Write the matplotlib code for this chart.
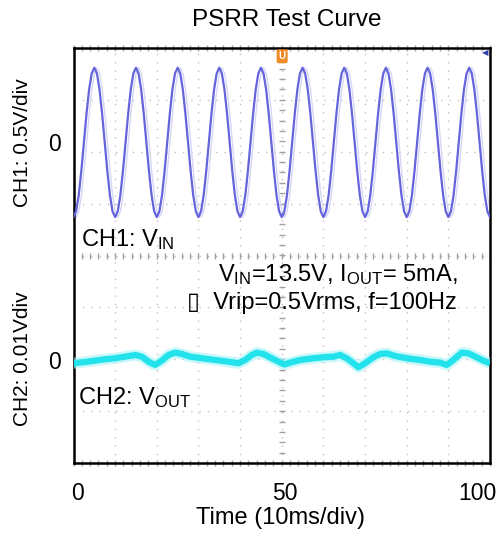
import numpy as np
import matplotlib
matplotlib.use("Agg")
import matplotlib.pyplot as plt

plt.rcParams['font.family'] = ['Liberation Sans', 'DejaVu Sans']
plt.rcParams['mathtext.fontset'] = 'custom'
plt.rcParams['mathtext.rm'] = 'Liberation Sans'
plt.rcParams['mathtext.it'] = 'Liberation Sans'

# CH1 (input ripple), volts, one cycle sampled every 0.625 ms, starts at a trough
ch1_step = 0.625
ch1_cycle = [-0.72, -0.665, -0.51, -0.276, 0.0, 0.276, 0.51, 0.665,
             0.72, 0.665, 0.51, 0.276, 0.0, -0.276, -0.51, -0.665]
ch1_cycles = 10
ch1_lag = 0.65          # faint persistence trace, ms behind

# CH2 (output), mV
ch2_t = [0, 2.8, 5.2, 7.6, 10.0, 12.4, 14.8, 16.4, 18.0, 19.6, 21.2, 22.8, 24.4, 26.0,
         28.0, 30.8, 34.0, 37.2, 39.6, 41.2, 42.8, 44.0, 45.6, 47.6, 49.2, 50.6,
         52.0, 54.4, 57.6, 60.0, 62.4, 64.0, 65.6, 67.2, 68.4, 70.0, 72.0, 73.6,
         75.2, 77.2, 80.0, 83.2, 85.6, 88.0, 89.6, 91.2, 93.2, 94.8, 96.8, 98.4, 100]
ch2_mv = [-0.67, -0.42, -0.17, 0.1, 0.29, 0.6, 0.92, 0.6, -0.37, -1.0, -0.17, 0.92, 1.37, 1.12,
          0.6, 0.29, -0.04, -0.37, -0.67, -0.04, 0.92, 1.37, 1.12, 0.29, -0.37, -0.9,
          -0.55, -0.04, 0.29, 0.48, 0.6, 0.92, 0.29, -0.67, -1.45, -0.67, 0.48, 1.12,
          1.25, 0.73, 0.29, -0.04, -0.37, -0.55, -1.0, -0.04, 1.37, 1.25, 0.48, -0.17, -0.67]

ch1_vdiv = 0.5
ch2_mvdiv = 10.0
ch1_zero = 2.18
ch2_zero = -2.01

ch1_v = np.array(ch1_cycle * ch1_cycles + [ch1_cycle[0]])
ch1_t = np.arange(len(ch1_v)) * ch1_step

fig = plt.figure(figsize=(4.98, 5.41), dpi=100)
ax = fig.add_axes([73.5/498, 1-463/541, (490-73.5)/498, (463-48)/541])
ax.set_xlim(0, 100)
ax.set_ylim(-4, 4)

# graticule
for gx in np.arange(10, 100, 10):
    ax.axvline(gx, color='#c0c0c0', lw=1.0, ls=(0, (1, 5)), zorder=0)
for gy in np.arange(-3, 4, 1):
    ax.axhline(gy, color='#c0c0c0', lw=1.0, ls=(0, (1, 5)), zorder=0)
mx = np.arange(0, 100.1, 2)
my = np.arange(-4, 4.01, 0.2)
ax.plot(mx, np.zeros_like(mx), ls='none', marker='|', ms=4, color='#a0a0a0', mew=1, zorder=0)
ax.plot(np.full_like(my, 50), my, ls='none', marker='_', ms=4, color='#a0a0a0', mew=1, zorder=0)
ax.plot(mx, np.full_like(mx, -4), ls='none', marker='|', ms=5, color='#a8a8a8', mew=1, zorder=0, clip_on=False)
ax.plot(mx, np.full_like(mx, 4), ls='none', marker='|', ms=5, color='#a8a8a8', mew=1, zorder=0, clip_on=False)

# CH1 traces
ax.plot(ch1_t + ch1_lag, ch1_v / ch1_vdiv + ch1_zero, color='#d6d6f6', lw=1.0, zorder=2)
ax.plot(ch1_t, ch1_v / ch1_vdiv + ch1_zero, color='#6464dc', lw=1.6, zorder=3)

# CH2 trace
y2 = np.array(ch2_mv) / ch2_mvdiv + ch2_zero
ax.plot(ch2_t, y2, color='#a6f4f7', lw=8, alpha=0.6, solid_capstyle='butt', zorder=3)
ax.plot(ch2_t, y2, color='#22e2ec', lw=4.5, solid_capstyle='butt', zorder=4)

# scope markers
ax.text(50.1, 3.84, 'U', color='white', fontsize=7, fontweight='bold', ha='center', va='center',
        bbox=dict(boxstyle='round,pad=0.2', fc='#f08a24', ec='none'), zorder=6)
ax.text(98.8, 3.9, '\u25c0', color='#3040b0', fontsize=6, ha='center', va='center', zorder=6)

ax.text(1.8, 0.30, r'CH1: V$_{\mathrm{IN}}$', fontsize=17, ha='left', va='center', zorder=7)
ax.text(1.1, -2.73, r'CH2: V$_{\mathrm{OUT}}$', fontsize=17, ha='left', va='center', zorder=7)
ax.text(92.1, -0.37, r'V$_{\mathrm{IN}}$=13.5V, I$_{\mathrm{OUT}}$= 5mA,', fontsize=17,
        ha='right', va='center', zorder=7)
ax.text(92.1, -0.915, '\u25af  Vrip=0.5Vrms, f=100Hz', fontsize=17,
        ha='right', va='center', zorder=7)

for s in ax.spines.values():
    s.set_linewidth(1.8)
    s.set_color('black')

ax.set_xticks([1, 50.8, 97])
ax.set_xticklabels(['0', '50', '100'])
ax.set_yticks([ch1_zero, ch2_zero])
ax.set_yticklabels(['0', '0'])
ax.tick_params(axis='both', length=0, labelsize=16.5)
ax.tick_params(axis='x', pad=13.5)
ax.tick_params(axis='y', pad=9)

fig.text(287/498, 1-19.5/541, 'PSRR Test Curve', fontsize=17.5, ha='center', va='center')
fig.text(280/498, 1-518/541, 'Time (10ms/div)', fontsize=17, ha='center', va='center')
fig.text(23/498, 1-143/541, 'CH1: 0.5V/div', fontsize=15, rotation=90, ha='center', va='center')
fig.text(23/498, 1-359/541, 'CH2: 0.01Vdiv', fontsize=15, rotation=90, ha='center', va='center')

fig.savefig('out.png', dpi=100)
